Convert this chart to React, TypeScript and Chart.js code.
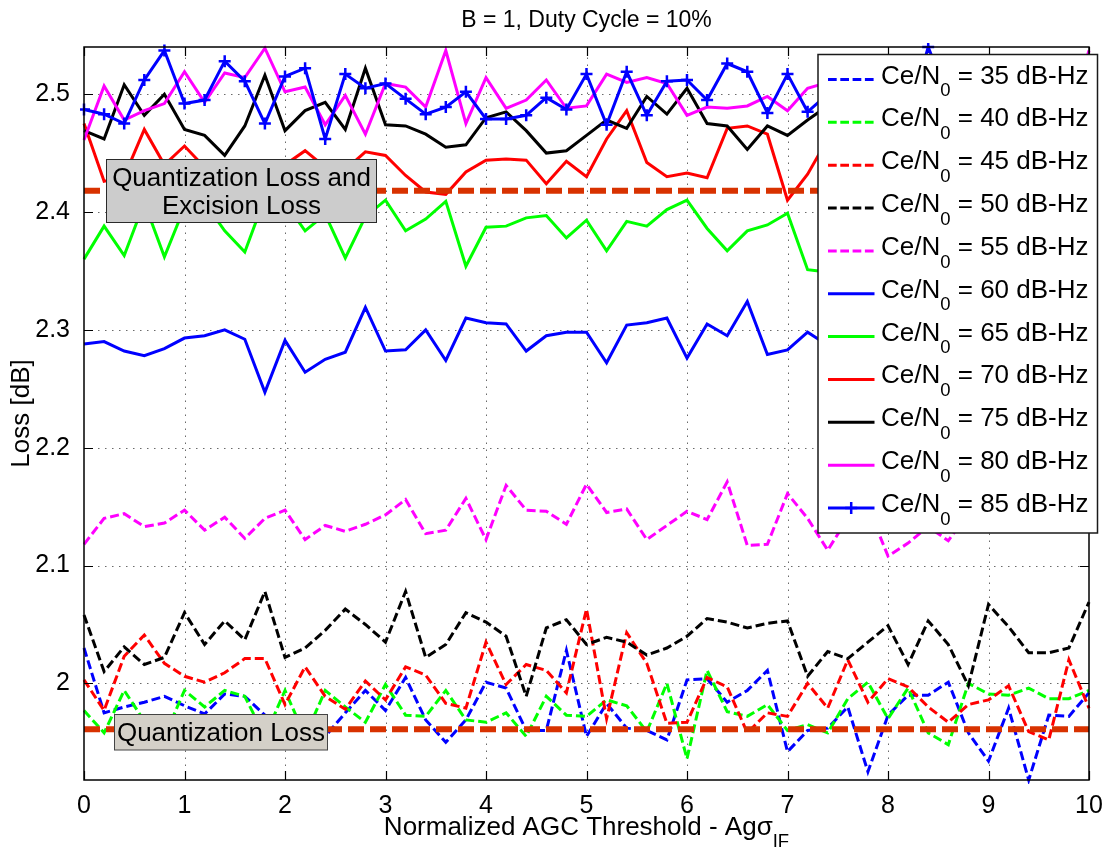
import React, { useEffect, useRef } from 'react';
import { Chart, registerables } from 'chart.js';

Chart.register(...registerables);

// ---------------- data ----------------
const xValues = [
  0, 0.2, 0.4, 0.6, 0.8, 1, 1.2, 1.4, 1.6, 1.8, 2, 2.2, 2.4, 2.6, 2.8, 3, 3.2, 3.4, 3.6, 3.8,
  4, 4.2, 4.4, 4.6, 4.8, 5, 5.2, 5.4, 5.6, 5.8, 6, 6.2, 6.4, 6.6, 6.8, 7, 7.2, 7.4, 7.6, 7.8,
  8, 8.2, 8.4, 8.6, 8.8, 9, 9.2, 9.4, 9.6, 9.8, 10,
];
const xTicks = [0, 1, 2, 3, 4, 5, 6, 7, 8, 9, 10];
const yTicks = [2, 2.1, 2.2, 2.3, 2.4, 2.5];
const yMin = 1.918;
const yMax = 2.54;

const cn35 = [
  2.030, 1.975, 1.980, 1.984, 1.989, 1.981, 1.974, 1.991, 1.989, 1.973, 1.958, 1.950, 1.955, 1.975, 1.994, 1.977, 2.005,
  1.969, 1.950, 1.969, 2.001, 1.996, 1.960, 1.960, 2.028, 1.955, 1.983, 1.962, 1.960, 1.952, 2.003, 2.004, 1.984, 1.994,
  2.011, 1.942, 1.960, 1.962, 1.980, 1.925, 1.973, 1.990, 1.990, 2.001, 1.958, 1.934, 1.979, 1.918, 1.973, 1.972, 1.992,
];
const cn40 = [
  1.977, 1.958, 1.994, 1.968, 1.955, 1.994, 1.980, 1.994, 1.989, 1.955, 1.994, 1.955, 1.994, 1.980, 1.967, 1.999, 1.973,
  1.972, 1.994, 1.969, 1.967, 1.975, 1.955, 1.989, 1.973, 1.972, 1.986, 1.981, 1.959, 2.000, 1.936, 2.011, 1.976, 1.972,
  1.982, 1.960, 1.965, 1.958, 1.987, 2.001, 1.970, 1.996, 1.958, 1.948, 2.000, 1.991, 1.990, 1.996, 1.987, 1.987, 1.994,
];
const cn45 = [
  2.003, 1.977, 2.023, 2.041, 2.017, 2.006, 2.001, 2.009, 2.021, 2.021, 1.982, 2.014, 1.989, 1.978, 2.002, 1.986, 2.014,
  2.007, 1.983, 1.979, 2.035, 1.999, 2.016, 2.011, 1.992, 2.063, 1.970, 2.043, 2.017, 1.966, 1.967, 2.005, 1.997, 1.958,
  1.975, 1.972, 2.000, 1.979, 2.020, 1.984, 2.004, 1.997, 1.980, 1.967, 1.982, 1.986, 1.998, 1.959, 1.952, 2.020, 1.979,
];
const cn50 = [
  2.058, 2.010, 2.031, 2.016, 2.022, 2.060, 2.033, 2.053, 2.037, 2.078, 2.022, 2.030, 2.045, 2.063, 2.050, 2.035, 2.078,
  2.022, 2.033, 2.060, 2.052, 2.040, 1.989, 2.047, 2.054, 2.033, 2.039, 2.035, 2.024, 2.030, 2.040, 2.055, 2.052, 2.047,
  2.051, 2.053, 2.006, 2.027, 2.021, 2.035, 2.049, 2.016, 2.053, 2.033, 1.998, 2.067, 2.048, 2.026, 2.026, 2.030, 2.069,
];
const cn55 = [
  2.118, 2.140, 2.144, 2.133, 2.136, 2.147, 2.130, 2.141, 2.123, 2.140, 2.147, 2.122, 2.134, 2.129, 2.135, 2.143, 2.156,
  2.127, 2.130, 2.157, 2.122, 2.168, 2.147, 2.146, 2.135, 2.169, 2.145, 2.148, 2.122, 2.134, 2.146, 2.139, 2.171, 2.117,
  2.118, 2.161, 2.140, 2.113, 2.140, 2.150, 2.108, 2.119, 2.133, 2.121, 2.145, 2.152, 2.134, 2.160, 2.138, 2.147, 2.131,
];
const cn60 = [
  2.288, 2.290, 2.282, 2.278, 2.284, 2.293, 2.295, 2.300, 2.292, 2.247, 2.291, 2.264, 2.275, 2.281, 2.319, 2.282, 2.283,
  2.300, 2.274, 2.310, 2.306, 2.305, 2.282, 2.295, 2.298, 2.298, 2.272, 2.304, 2.306, 2.310, 2.276, 2.305, 2.295, 2.324,
  2.279, 2.283, 2.298, 2.287, 2.300, 2.292, 2.305, 2.284, 2.296, 2.310, 2.289, 2.301, 2.293, 2.281, 2.304, 2.298, 2.290,
];
const cn65 = [
  2.360, 2.388, 2.363, 2.408, 2.362, 2.404, 2.408, 2.384, 2.366, 2.412, 2.408, 2.384, 2.398, 2.361, 2.396, 2.410, 2.384,
  2.394, 2.409, 2.354, 2.387, 2.388, 2.395, 2.397, 2.378, 2.393, 2.367, 2.392, 2.388, 2.402, 2.410, 2.386, 2.367, 2.384,
  2.389, 2.399, 2.351, 2.349, 2.372, 2.390, 2.381, 2.395, 2.368, 2.385, 2.401, 2.377, 2.389, 2.366, 2.392, 2.383, 2.378,
];
const cn70 = [
  2.475, 2.426, 2.430, 2.470, 2.440, 2.456, 2.438, 2.430, 2.425, 2.432, 2.440, 2.452, 2.438, 2.436, 2.451, 2.448, 2.431,
  2.417, 2.415, 2.434, 2.444, 2.445, 2.444, 2.424, 2.443, 2.430, 2.462, 2.486, 2.442, 2.430, 2.433, 2.429, 2.471, 2.473,
  2.466, 2.410, 2.432, 2.462, 2.448, 2.431, 2.455, 2.440, 2.421, 2.452, 2.437, 2.466, 2.429, 2.446, 2.458, 2.434, 2.449,
];
const cn75 = [
  2.469, 2.462, 2.508, 2.482, 2.500, 2.470, 2.465, 2.448, 2.473, 2.516, 2.469, 2.486, 2.493, 2.470, 2.522, 2.474, 2.473,
  2.466, 2.455, 2.457, 2.480, 2.485, 2.469, 2.450, 2.452, 2.465, 2.478, 2.471, 2.498, 2.483, 2.505, 2.475, 2.473, 2.453,
  2.473, 2.465, 2.478, 2.490, 2.468, 2.481, 2.462, 2.495, 2.474, 2.459, 2.486, 2.470, 2.501, 2.477, 2.464, 2.489, 2.472,
];
const cn80 = [
  2.461, 2.507, 2.478, 2.486, 2.492, 2.519, 2.493, 2.518, 2.514, 2.539, 2.502, 2.506, 2.474, 2.499, 2.466, 2.509, 2.506,
  2.489, 2.537, 2.475, 2.514, 2.488, 2.495, 2.512, 2.488, 2.490, 2.517, 2.510, 2.514, 2.509, 2.482, 2.489, 2.488, 2.490,
  2.498, 2.486, 2.505, 2.510, 2.488, 2.502, 2.479, 2.515, 2.493, 2.507, 2.484, 2.498, 2.512, 2.490, 2.504, 2.481, 2.537,
];
const cn85 = [
  2.487, 2.483, 2.475, 2.512, 2.537, 2.492, 2.495, 2.528, 2.511, 2.475, 2.515, 2.522, 2.462, 2.517, 2.505, 2.509, 2.496,
  2.483, 2.489, 2.502, 2.479, 2.479, 2.482, 2.497, 2.487, 2.517, 2.474, 2.519, 2.482, 2.511, 2.512, 2.495, 2.526, 2.519,
  2.484, 2.517, 2.485, 2.500, 2.487, 2.512, 2.493, 2.478, 2.540, 2.496, 2.483, 2.509, 2.491, 2.517, 2.486, 2.502, 2.495,
];

const seriesLabels = ['35', '40', '45', '50', '55', '60', '65', '70', '75', '80', '85'];
const seriesValues = [cn35, cn40, cn45, cn50, cn55, cn60, cn65, cn70, cn75, cn80, cn85];

const refExcisionLoss = 2.418;
const refQuantLoss = 1.961;

const titleText = 'B = 1, Duty Cycle = 10%';
const xLabelMain = 'Normalized AGC Threshold - Agσ';
const xLabelSub = 'IF';
const yLabelText = 'Loss [dB]';
const boxExcisionLines = ['Quantization Loss and', 'Excision Loss'];
const boxQuantText = 'Quantization Loss';

// ---------------- styles ----------------
const FF = '"Liberation Sans", Arial, Helvetica, sans-serif';
const seriesColors = ['#0000ff', '#00ff00', '#ff0000', '#000000', '#ff00ff', '#0000ff', '#00ff00', '#ff0000', '#000000', '#ff00ff', '#0000ff'];
const seriesDashed = [true, true, true, true, true, false, false, false, false, false, false];
const seriesMarker = [false, false, false, false, false, false, false, false, false, false, true];
const DATA_DASH = [9, 4];
const REF_COLOR = '#d83200';
const TXT = 26;
const SUB = 18.5;

function drawSubText(ctx: CanvasRenderingContext2D, x: number, y: number, pre: string, sub: string, post: string, size: number, subSize: number, drop: number) {
  ctx.font = `${size}px ${FF}`;
  ctx.fillText(pre, x, y);
  let w = ctx.measureText(pre).width;
  ctx.font = `${subSize}px ${FF}`;
  ctx.fillText(sub, x + w, y + drop);
  w += ctx.measureText(sub).width;
  ctx.font = `${size}px ${FF}`;
  ctx.fillText(post, x + w, y);
  w += ctx.measureText(post).width;
  return w;
}

function measureSubText(ctx: CanvasRenderingContext2D, pre: string, sub: string, post: string, size: number, subSize: number) {
  ctx.font = `${size}px ${FF}`;
  let w = ctx.measureText(pre).width + ctx.measureText(post).width;
  ctx.font = `${subSize}px ${FF}`;
  w += ctx.measureText(sub).width;
  return w;
}

const decorPlugin = {
  id: 'matlabDecor',
  beforeDatasetsDraw(chart: any) {
    const { ctx, chartArea: ca, scales } = chart;
    const x = scales.x;
    const y = scales.y;
    ctx.save();
    ctx.strokeStyle = '#6a6a6a';
    ctx.lineWidth = 1;
    ctx.setLineDash([1.5, 5.5]);
    for (const t of xTicks) {
      if (t === xTicks[0] || t === xTicks[xTicks.length - 1]) continue;
      const px = Math.round(x.getPixelForValue(t)) + 0.5;
      ctx.beginPath();
      ctx.moveTo(px, ca.bottom);
      ctx.lineTo(px, ca.top);
      ctx.stroke();
    }
    for (const t of yTicks) {
      const py = Math.round(y.getPixelForValue(t)) + 0.5;
      ctx.beginPath();
      ctx.moveTo(ca.left, py);
      ctx.lineTo(ca.right, py);
      ctx.stroke();
    }
    ctx.restore();
  },
  afterDatasetsDraw(chart: any) {
    const { ctx, chartArea: ca, scales } = chart;
    const x = scales.x;
    const y = scales.y;
    ctx.save();

    // reference lines
    ctx.strokeStyle = REF_COLOR;
    ctx.lineWidth = 6;
    ctx.setLineDash([16, 6]);
    for (const v of [refExcisionLoss, refQuantLoss]) {
      const py = y.getPixelForValue(v);
      ctx.beginPath();
      ctx.moveTo(x.getPixelForValue(0), py);
      ctx.lineTo(x.getPixelForValue(10), py);
      ctx.stroke();
    }
    ctx.setLineDash([]);

    // annotation boxes
    ctx.textAlign = 'center';
    ctx.textBaseline = 'alphabetic';
    ctx.fillStyle = '#cccccc';
    ctx.fillRect(106.5, 159, 270, 63.5);
    ctx.strokeStyle = '#2a2a2a';
    ctx.lineWidth = 1;
    ctx.strokeRect(106.5, 159.5, 270, 63);
    ctx.fillStyle = '#000';
    ctx.font = `${TXT}px ${FF}`;
    ctx.fillText(boxExcisionLines[0], 241.5, 185.5);
    ctx.fillText(boxExcisionLines[1], 241.5, 213.5);
    ctx.fillStyle = '#d4d0c8';
    ctx.fillRect(114.5, 714.5, 213, 35.5);
    ctx.strokeStyle = '#444';
    ctx.strokeRect(114.5, 714.5, 213, 35.5);
    ctx.fillStyle = '#000';
    ctx.fillText(boxQuantText, 221, 740.5);

    // frame + inward ticks
    ctx.strokeStyle = '#000';
    ctx.lineWidth = 1.5;
    ctx.strokeRect(ca.left, ca.top, ca.right - ca.left, ca.bottom - ca.top);
    ctx.lineWidth = 1.2;
    const TL = 9;
    for (const t of xTicks) {
      const px = Math.round(x.getPixelForValue(t)) + 0.5;
      ctx.beginPath();
      ctx.moveTo(px, ca.bottom); ctx.lineTo(px, ca.bottom - TL);
      ctx.moveTo(px, ca.top); ctx.lineTo(px, ca.top + TL);
      ctx.stroke();
    }
    for (const t of yTicks) {
      const py = Math.round(y.getPixelForValue(t)) + 0.5;
      ctx.beginPath();
      ctx.moveTo(ca.left, py); ctx.lineTo(ca.left + TL, py);
      ctx.moveTo(ca.right, py); ctx.lineTo(ca.right - TL, py);
      ctx.stroke();
    }

    // legend
    const lx = 818, ly = 54.5, lw = 279.5, lh = 478.5;
    ctx.fillStyle = '#fff';
    ctx.fillRect(lx, ly, lw, lh);
    ctx.strokeStyle = '#1a1a1a';
    ctx.lineWidth = 1.5;
    ctx.strokeRect(lx, ly, lw, lh);
    ctx.textAlign = 'left';
    for (let k = 0; k < seriesLabels.length; k++) {
      const yb = 83.5 + k * 42.85;
      const ys = yb - 4;
      ctx.strokeStyle = seriesColors[k];
      ctx.lineWidth = 3;
      ctx.setLineDash(seriesDashed[k] ? [8.7, 3.6] : []);
      ctx.beginPath();
      ctx.moveTo(828, ys);
      ctx.lineTo(874.5, ys);
      ctx.stroke();
      ctx.setLineDash([]);
      if (seriesMarker[k]) {
        ctx.lineWidth = 2.5;
        ctx.beginPath();
        ctx.moveTo(851.2, ys - 6); ctx.lineTo(851.2, ys + 6);
        ctx.moveTo(845.2, ys); ctx.lineTo(857.2, ys);
        ctx.stroke();
      }
      ctx.fillStyle = '#000';
      drawSubText(ctx, 881, yb, 'Ce/N', '0', ` = ${seriesLabels[k]} dB-Hz`, TXT, SUB, 12.7);
    }
    ctx.restore();
  },
  afterDraw(chart: any) {
    const { ctx, chartArea: ca } = chart;
    ctx.save();
    ctx.fillStyle = '#000';
    const cx = (ca.left + ca.right) / 2;
    ctx.textAlign = 'center';
    ctx.textBaseline = 'alphabetic';
    ctx.font = `23px ${FF}`;
    ctx.fillText(titleText, cx, 27);
    ctx.textAlign = 'left';
    const w = measureSubText(ctx, xLabelMain, xLabelSub, '', TXT, SUB);
    drawSubText(ctx, cx - w / 2, 835, xLabelMain, xLabelSub, '', TXT, SUB, 12);
    ctx.translate(22, (ca.top + ca.bottom) / 2);
    ctx.rotate(-Math.PI / 2);
    ctx.textAlign = 'center';
    ctx.textBaseline = 'middle';
    ctx.font = `${TXT}px ${FF}`;
    ctx.fillText(yLabelText, 0, 0);
    ctx.restore();
  },
};

export default function App() {
  const canvasRef = useRef<HTMLCanvasElement | null>(null);

  useEffect(() => {
    const canvas = canvasRef.current;
    if (!canvas) return;
    Chart.defaults.font.family = FF;

    const datasets: any[] = seriesValues.map((vals, idx) => ({
      label: `Ce/N0 = ${seriesLabels[idx]} dB-Hz`,
      data: xValues.map((xv, i) => ({ x: xv, y: vals[i] })),
      borderColor: seriesColors[idx],
      backgroundColor: seriesColors[idx],
      borderWidth: 3,
      borderDash: seriesDashed[idx] ? DATA_DASH : [],
      pointRadius: seriesMarker[idx] ? 6 : 0,
      pointHoverRadius: seriesMarker[idx] ? 6 : 0,
      pointStyle: 'cross',
      pointBorderWidth: 2.5,
      pointBorderColor: seriesColors[idx],
      fill: false,
      tension: 0,
      order: seriesLabels.length - idx,
      clip: 4,
    }));

    const chart = new Chart(canvas, {
      type: 'line',
      data: { datasets },
      options: {
        responsive: false,
        animation: false,
        devicePixelRatio: 1,
        layout: { padding: { top: 47, right: 17, left: 0, bottom: 0 } },
        plugins: {
          legend: { display: false },
          title: { display: false },
          tooltip: { enabled: false },
        },
        scales: {
          x: {
            type: 'linear',
            min: 0,
            max: 10,
            grid: { display: false },
            border: { display: false },
            ticks: {
              color: '#000',
              font: { size: 25, family: FF },
              padding: 3,
              maxRotation: 0,
              autoSkip: false,
              callback: (v: any) => String(v),
            },
            afterBuildTicks: (scale: any) => {
              scale.ticks = xTicks.map((v) => ({ value: v }));
            },
            afterFit: (scale: any) => {
              scale.height = 67;
            },
          },
          y: {
            type: 'linear',
            min: yMin,
            max: yMax,
            grid: { display: false },
            border: { display: false },
            ticks: {
              color: '#000',
              font: { size: 25, family: FF },
              padding: 6,
              autoSkip: false,
              callback: (v: any) => String(Math.round(v * 10) / 10),
            },
            afterBuildTicks: (scale: any) => {
              scale.ticks = yTicks.map((v) => ({ value: v }));
            },
            afterFit: (scale: any) => {
              scale.width = 84;
            },
          },
        },
      },
      plugins: [decorPlugin],
    } as any);

    return () => chart.destroy();
  }, []);

  return (
    <div style={{ position: 'absolute', left: 0, top: 0, width: 1106, height: 847, background: '#fff' }}>
      <canvas ref={canvasRef} width={1106} height={847} style={{ display: 'block' }} />
    </div>
  );
}
